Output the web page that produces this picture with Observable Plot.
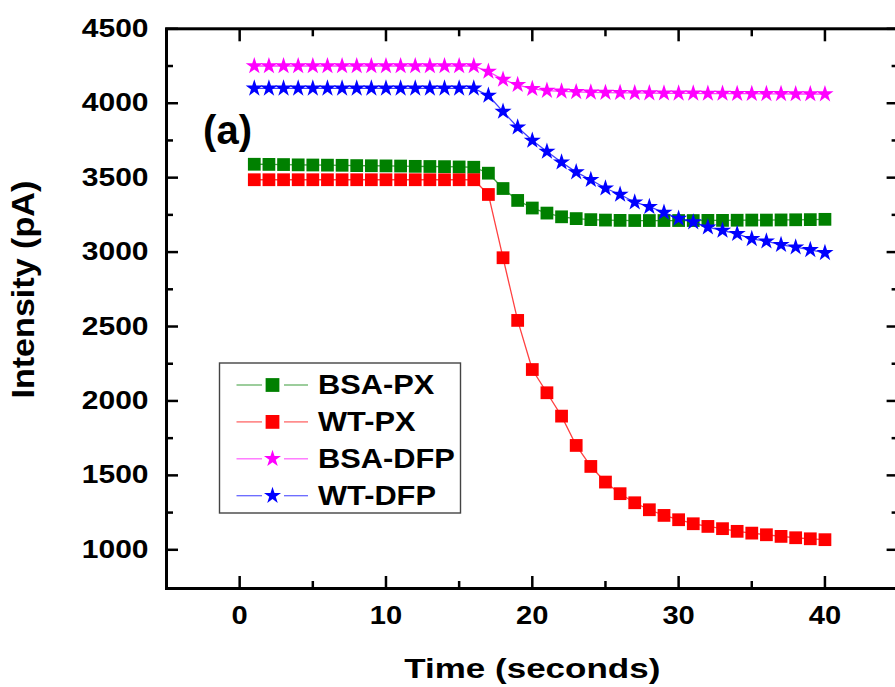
<!DOCTYPE html>
<html><head><meta charset="utf-8">
<script src="https://cdn.jsdelivr.net/npm/d3@7"></script>
<script src="https://cdn.jsdelivr.net/npm/@observablehq/plot@0.6"></script>
<style>
html,body{margin:0;padding:0;background:#fff;overflow:hidden;width:895px;height:687px}
#chart{position:relative;width:895px;height:687px;overflow:hidden}
</style>
</head><body><div id="chart"></div>
<script>
// ---- data ----
const time = [1,2,3,4,5,6,7,8,9,10,11,12,13,14,15,16,17,18,19,20,21,22,23,24,25,26,27,28,29,30,31,32,33,34,35,36,37,38,39,40];
const seriesNames = ["BSA-PX", "WT-PX", "BSA-DFP", "WT-DFP"];
const seriesColors = ["#008000", "#ff0000", "#ff00ff", "#0000ff"];
const seriesSymbols = ["square", "square", "star", "star"];
const bsaPX = [3590,3589,3588,3586,3585,3584,3583,3581,3580,3579,3578,3576,3575,3574,3572,3570,
  3530,3427,3347,3296,3262,3237,3225,3218,3215,3213,3212,3212,3212,3212,3212,3213,3213,3214,3215,3215,3216,3217,3218,3220];
const wtPX = [3486,3486,3486,3486,3486,3486,3486,3486,3486,3486,3486,3486,3486,3486,3486,3486,
  3387,2962,2541,2211,2055,1898,1701,1560,1455,1377,1316,1269,1231,1202,1175,1157,1142,1124,1112,1101,1090,1081,1074,1068];
const bsaDFP = [4250,4250,4250,4250,4250,4250,4250,4250,4250,4250,4250,4250,4250,4250,4250,4250,
  4213,4159,4124,4097,4085,4080,4076,4073,4071,4070,4069,4068,4067,4066,4066,4065,4065,4064,4064,4063,4063,4062,4062,4061];
const wtDFP = [4100,4100,4100,4100,4100,4100,4100,4100,4100,4100,4100,4100,4100,4100,4100,4100,
  4052,3944,3839,3750,3676,3604,3537,3486,3429,3387,3335,3305,3266,3226,3201,3167,3145,3123,3089,3073,3049,3033,3015,2995];
const seriesValues = [bsaPX, wtPX, bsaDFP, wtDFP];
const xMajor = [0,10,20,30,40];
const xMinor = [5,15,25,35];
const yMajor = [1000,1500,2000,2500,3000,3500,4000,4500];
const yMinor = [1250,1750,2250,2750,3250,3750,4250];
const xTitle = "Time (seconds)";
const yTitle = "Intensity (pA)";
const panelLabel = "(a)";

// ---- build table ----
const rows = [];
seriesNames.forEach((name, i) => time.forEach((t, j) => rows.push({series: name, time: t, value: seriesValues[i][j]})));

const FONT = "'Liberation Sans', Arial, Helvetica, sans-serif";
const seriesMarks = [];
seriesNames.forEach((name, i) => {
  const d = rows.filter(r => r.series === name);
  seriesMarks.push(Plot.line(d, {x: "time", y: "value", stroke: seriesColors[i], strokeWidth: 1.3, strokeOpacity: 0.75}));
  seriesMarks.push(Plot.dot(d, {x: "time", y: "value", fill: seriesColors[i], symbol: seriesSymbols[i], r: seriesSymbols[i] === "square" ? 7.2 : 5.4}));
});

const tickStyle = {fill: "none", strokeWidth: 2.5, label: null};
const W = 910;
const plot = Plot.plot({
  width: W, height: 687,
  marginLeft: 166, marginRight: W - 897.6, marginTop: 28.3, marginBottom: 687 - 588,
  x: {domain: [-5, 45]},
  y: {domain: [740, 4500]},
  style: {fontFamily: FONT, background: "white", color: "black", maxWidth: "none", overflow: "visible"},
  marks: [
    ...seriesMarks,
    Plot.axisX({ticks: xMajor, anchor: "bottom", tickSize: -12, ...tickStyle}),
    Plot.axisX({ticks: xMinor, anchor: "bottom", tickSize: -7, ...tickStyle}),
    Plot.axisX({ticks: xMajor, anchor: "top", tickSize: -12, ...tickStyle}),
    Plot.axisX({ticks: xMinor, anchor: "top", tickSize: -7, ...tickStyle}),
    Plot.axisY({ticks: yMajor, anchor: "left", tickSize: -12, ...tickStyle}),
    Plot.axisY({ticks: yMinor, anchor: "left", tickSize: -7, ...tickStyle}),
    Plot.axisY({ticks: yMajor, anchor: "right", tickSize: -12, ...tickStyle}),
    Plot.axisY({ticks: yMinor, anchor: "right", tickSize: -7, ...tickStyle}),
    Plot.axisX({ticks: xMajor, anchor: "bottom", tickSize: 0, tickPadding: 17, fontSize: 26, fontWeight: "bold", label: null, tickFormat: d => String(d)}),
    Plot.axisY({ticks: yMajor, anchor: "left", tickSize: 0, tickPadding: 18, fontSize: 25, fontWeight: "bold", label: null, tickFormat: d => String(d)}),
    Plot.frame({stroke: "black", strokeWidth: 3}),
    Plot.text([xTitle], {text: d => d, frameAnchor: "bottom", dy: 80.5, fontSize: 28, fontWeight: "bold", lineAnchor: "middle"}),
    Plot.text([yTitle], {text: d => d, frameAnchor: "left", dx: -142, dy: -19, rotate: -90, fontSize: 31, fontWeight: "bold", lineAnchor: "middle", textAnchor: "middle"}),
    Plot.text([panelLabel], {text: d => d, frameAnchor: "top-left", dx: 61, dy: 102, fontSize: 40, fontWeight: "bold", lineAnchor: "middle", textAnchor: "middle"})
  ]
});
const chart = document.getElementById("chart");
chart.appendChild(plot);

// widen glyphs to match the reference's broad bold lettering
function stretch(t, s) {
  let tr = t.getAttribute("transform");
  if (!tr) {
    const x = t.getAttribute("x") || 0, y = t.getAttribute("y") || 0;
    t.removeAttribute("x"); t.removeAttribute("y");
    tr = `translate(${x},${y})`;
  }
  t.setAttribute("transform", tr + ` scale(${s},1)`);
}
plot.querySelectorAll("text").forEach(t => {
  const txt = t.textContent;
  if (t.closest('[aria-label="y-axis tick label"]')) stretch(t, 1.2);
  else if (t.closest('[aria-label="x-axis tick label"]')) stretch(t, 1.12);
  else if (txt === xTitle) stretch(t, 1.25);
  else if (txt === yTitle) stretch(t, 1.1);
});

// ---- legend ----
const lg = d3.select(chart).append("svg")
  .attr("width", 895).attr("height", 687)
  .style("position", "absolute").style("left", "0px").style("top", "0px");
lg.append("rect").attr("x", 219.5).attr("y", 363).attr("width", 241).attr("height", 150)
  .attr("fill", "white").attr("stroke", "#444").attr("stroke-width", 1.4);
seriesNames.forEach((name, i) => {
  const cy = 385 + i * 36.9;
  const c = seriesColors[i];
  lg.append("line").attr("x1", 236.5).attr("x2", 262).attr("y1", cy).attr("y2", cy).attr("stroke", c).attr("stroke-width", 1.3).attr("stroke-opacity", 0.6);
  lg.append("line").attr("x1", 284).attr("x2", 308).attr("y1", cy).attr("y2", cy).attr("stroke", c).attr("stroke-width", 1.3).attr("stroke-opacity", 0.6);
  const sym = seriesSymbols[i] === "square" ? d3.symbol(d3.symbolSquare, 190) : d3.symbol(d3.symbolStar, 90);
  lg.append("path").attr("d", sym()).attr("transform", `translate(272.5,${cy})`).attr("fill", c);
  lg.append("text").attr("transform", `translate(318,${cy}) scale(1.14,1)`).attr("dy", "0.35em")
    .attr("font-family", FONT).attr("font-weight", "bold").attr("font-size", 27).attr("fill", "black").text(name);
});
</script>
</body></html>
